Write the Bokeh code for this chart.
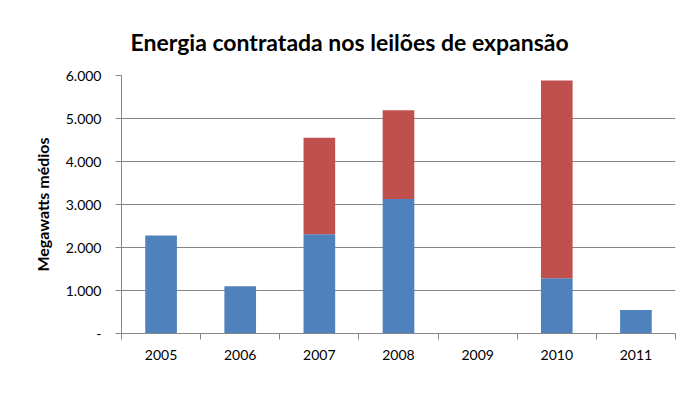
from bokeh.plotting import figure
from bokeh.models import ColumnDataSource, FixedTicker, Legend, LegendItem, Range1d
from bokeh.embed import file_html
from bokeh.resources import INLINE

years = ["2005", "2006", "2007", "2008", "2009", "2010", "2011"]
leilao_a5 = [2280, 1100, 2310, 3130, 0, 1283, 545]
projeto_estruturante = [0, 0, 2240, 2060, 0, 4600, 0]
y_ticks = [0, 1000, 2000, 3000, 4000, 5000, 6000]
y_tick_labels = ["-", "1.000", "2.000", "3.000", "4.000", "5.000", "6.000"]

BLUE = "#4F81BD"
RED = "#C0504D"
FONT = "Lato"

xc = [i + 0.5 for i in range(len(years))]
top_total = [a + b for a, b in zip(leilao_a5, projeto_estruturante)]
src = ColumnDataSource(dict(x=xc, a5=leilao_a5, tot=top_total, zero=[0] * len(years)))

p = figure(frame_width=554, frame_height=258, output_backend="svg", toolbar_location=None,
           x_range=Range1d(0, len(years)), y_range=Range1d(0, 6000),
           min_border_left=121, min_border_right=9, min_border_top=75, min_border_bottom=81)

p.title.text = "Energia contratada nos leilões de expansão"
p.title.align = "left"
p.title.offset = 9
p.title.text_font = FONT
p.title.text_font_size = "23px"
p.title.text_font_style = "bold"
p.title.text_color = "#000000"
p.title.standoff = 39

r1 = p.vbar(x="x", width=0.4, bottom="zero", top="a5", source=src, color=BLUE, line_color=None)
r2 = p.vbar(x="x", width=0.4, bottom="a5", top="tot", source=src, color=RED, line_color=None)

p.outline_line_color = None
p.background_fill_color = "white"
p.border_fill_color = "white"

# y axis
ya = p.yaxis[0]
ya.ticker = FixedTicker(ticks=y_ticks)
ya.major_label_overrides = {t: l for t, l in zip(y_ticks, y_tick_labels)}
ya.axis_label = "Megawatts médios"
ya.axis_label_text_font = FONT
ya.axis_label_text_font_style = "bold"
ya.axis_label_text_font_size = "16px"
ya.axis_label_text_color = "#000000"
ya.axis_label_standoff = 11
ya.major_label_text_font = FONT
ya.major_label_text_font_size = "14px"
ya.major_label_text_color = "#000000"
ya.major_label_standoff = 14
ya.major_tick_out = 6
ya.major_tick_in = 0
ya.minor_tick_out = 0
ya.minor_tick_in = 0
ya.axis_line_color = "#868686"
ya.major_tick_line_color = "#868686"

# x axis with ticks at category boundaries
xa = p.xaxis[0]
xa.ticker = FixedTicker(ticks=xc, minor_ticks=list(range(len(years) + 1)))
xa.major_label_overrides = {x: y for x, y in zip(xc, years)}
xa.major_tick_out = 0
xa.major_tick_in = 0
xa.minor_tick_out = 6
xa.minor_tick_in = 0
xa.minor_tick_line_color = "#868686"
xa.axis_line_color = "#868686"
xa.major_label_text_font = FONT
xa.major_label_text_font_size = "14px"
xa.major_label_text_color = "#000000"
xa.major_label_standoff = 10

p.xgrid.grid_line_color = None
p.ygrid.ticker = FixedTicker(ticks=y_ticks)
p.ygrid.grid_line_color = "#868686"

legend = Legend(items=[LegendItem(label="Leilão A-5", renderers=[r1]),
                       LegendItem(label="Projeto Estruturante", renderers=[r2])],
                orientation="horizontal", location=(99, 12),
                label_text_font=FONT, label_text_font_size="15px",
                glyph_width=12, glyph_height=12, label_standoff=2, spacing=30,
                border_line_color=None, background_fill_alpha=0,
                padding=0, margin=0)
p.add_layout(legend, "below")

open("out.html", "w").write(file_html(p, INLINE))
